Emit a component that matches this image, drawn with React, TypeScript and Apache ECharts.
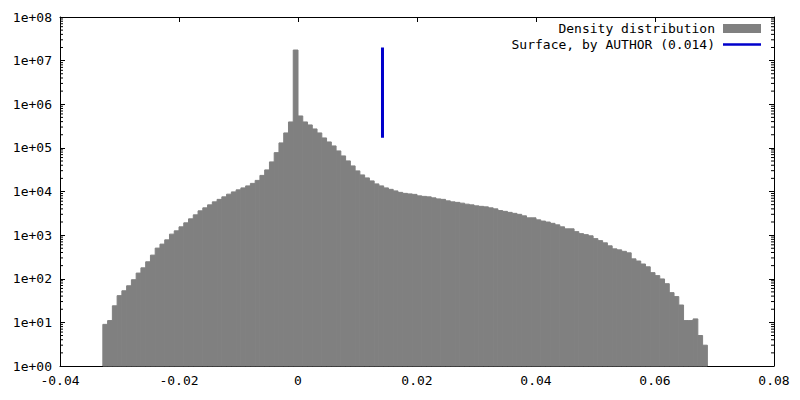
import React, { useEffect, useRef } from "react";
import * as echarts from "echarts";

// Histogram bins: left edge of first bin and bin width
const BIN_START = -0.0328;
const BIN_WIDTH = 0.0008;

// Counts per bin
const COUNTS = [
  9, 11, 24, 41, 53, 69, 95, 135, 178, 245,
  348, 504, 622, 780, 1054, 1254, 1549, 1911, 2360, 2915,
  3600, 4220, 4940, 5785, 6600, 7535, 8685, 9800, 10900, 12100,
  13450, 15350, 17980, 23400, 31270, 47700, 77800, 130000, 220000, 393000,
  17500000, 539000, 393000, 335600, 271700, 220000, 169000, 136800, 110800, 85200,
  65400, 50300, 38600, 29700, 24000, 20500, 17500, 14950, 13450, 12100,
  11200, 10330, 9550, 9060, 8820, 8590, 7940, 7730, 7535, 7145,
  6775, 6600, 6100, 5785, 5635, 5405, 5125, 4940, 4690, 4565,
  4445, 4220, 4000, 3655, 3505, 3325, 3155, 2995, 2765, 2490,
  2490, 2240, 2100, 1995, 1863, 1720, 1549, 1394, 1394, 1202,
  1082, 1026, 964, 831, 748, 666, 569, 485, 460, 425,
  393, 286, 255, 218, 188, 138, 118, 99, 77, 48,
  39, 25, 11, 11, 12, 5, 3,
];

// Vertical "surface" marker
const SURFACE_X = [0.0142, 0.0142];
const SURFACE_Y = [1.7e5, 2.0e7];

// Axes
const X_MIN = -0.04;
const X_MAX = 0.08;
const X_STEP = 0.02;
const Y_MIN = 1;
const Y_MAX = 1e8;
const MINOR_MULTS = [2, 3, 4, 5, 6, 7, 8, 9];
const DECADES = [0, 1, 2, 3, 4, 5, 6, 7];

const HIST_NAME = "Density distribution";
const SURFACE_NAME = "Surface, by AUTHOR (0.014)";

export default function App() {
  const ref = useRef<HTMLDivElement>(null);

  useEffect(() => {
    document.body.style.margin = "0";
    const chart = echarts.init(ref.current as HTMLDivElement, null, { renderer: "svg" });
    const FONT = "DejaVu Sans Mono";

    const histData = COUNTS.map((c, i) => [
      BIN_START + i * BIN_WIDTH,
      BIN_START + (i + 1) * BIN_WIDTH,
      c,
    ]);
    const minorData: number[][] = [];
    DECADES.forEach((e) => MINOR_MULTS.forEach((m) => minorData.push([X_MIN, m * Math.pow(10, e)])));

    const axisLabelStyle = { fontFamily: FONT, fontSize: 13, color: "#000" };

    const option: any = {
      animation: false,
      backgroundColor: "#fff",
      grid: { left: 60, right: 26, top: 17, bottom: 34, containLabel: false },
      legend: {
        orient: "vertical",
        right: 39,
        top: 22,
        padding: 0,
        align: "right",
        itemGap: 3,
        itemWidth: 38,
        itemHeight: 9,
        itemStyle: { borderWidth: 0 },
        textStyle: { fontFamily: FONT, fontSize: 13, color: "#000", padding: [0, 3, 0, 0] },
        data: [
          { name: HIST_NAME, icon: "rect" },
          {
            name: SURFACE_NAME,
            icon: "path://M0,0L38,0ZM0,9L38,9ZM0,3.2L38,3.2L38,5.8L0,5.8Z",
          },
        ],
      },
      xAxis: [
        {
          type: "value",
          min: X_MIN,
          max: X_MAX,
          interval: X_STEP,
          axisLine: { show: true, onZero: false, lineStyle: { color: "#000", width: 1 } },
          axisTick: { show: true, inside: true, length: 5, lineStyle: { color: "#000" } },
          axisLabel: {
            ...axisLabelStyle,
            margin: 8,
            formatter: (v: number) => String(parseFloat(v.toFixed(2))),
          },
          splitLine: { show: false },
        },
        {
          type: "value",
          position: "top",
          min: X_MIN,
          max: X_MAX,
          interval: X_STEP,
          axisLine: { show: true, onZero: false, lineStyle: { color: "#000", width: 1 } },
          axisTick: { show: true, inside: true, length: 5, lineStyle: { color: "#000" } },
          axisLabel: { show: false },
          splitLine: { show: false },
        },
      ],
      yAxis: [
        {
          type: "log",
          logBase: 10,
          min: Y_MIN,
          max: Y_MAX,
          interval: 1,
          axisLine: { show: true, onZero: false, lineStyle: { color: "#000", width: 1 } },
          axisTick: { show: true, inside: true, length: 5, lineStyle: { color: "#000" } },
          axisLabel: {
            ...axisLabelStyle,
            margin: 8,
            formatter: (v: number) => {
              const e = Math.round(Math.log10(v));
              return "1e+" + String(e).padStart(2, "0");
            },
          },
          splitLine: { show: false },
        },
        {
          type: "log",
          logBase: 10,
          position: "right",
          min: Y_MIN,
          max: Y_MAX,
          interval: 1,
          axisLine: { show: true, onZero: false, lineStyle: { color: "#000", width: 1 } },
          axisTick: { show: true, inside: true, length: 5, lineStyle: { color: "#000" } },
          axisLabel: { show: false },
          splitLine: { show: false },
        },
      ],
      series: [
        {
          type: "custom",
          name: HIST_NAME,
          xAxisIndex: 0,
          yAxisIndex: 0,
          itemStyle: { color: "#808080" },
          encode: { x: [0, 1], y: 2 },
          data: histData,
          renderItem: (params: any, api: any) => {
            const a = api.coord([api.value(0), api.value(2)]);
            const b = api.coord([api.value(1), Y_MIN]);
            return {
              type: "rect",
              shape: { x: a[0], y: a[1], width: b[0] - a[0], height: b[1] - a[1] },
              style: { fill: "#808080", stroke: "#808080", lineWidth: 1 },
            };
          },
        },
        {
          type: "line",
          name: SURFACE_NAME,
          xAxisIndex: 0,
          yAxisIndex: 0,
          symbol: "none",
          showSymbol: false,
          color: "#0000cc",
          itemStyle: { color: "#0000cc", borderWidth: 0 },
          lineStyle: { color: "#0000cc", width: 3 },
          data: SURFACE_X.map((x, i) => [x, SURFACE_Y[i]]),
        },
        {
          type: "custom",
          name: "minor ticks",
          silent: true,
          xAxisIndex: 0,
          yAxisIndex: 0,
          encode: { x: 0, y: 1 },
          data: minorData,
          renderItem: (params: any, api: any) => {
            const y = api.coord([X_MIN, api.value(1)])[1];
            const left = params.coordSys.x;
            const right = params.coordSys.x + params.coordSys.width;
            return {
              type: "group",
              children: [
                { type: "line", shape: { x1: left, y1: y, x2: left + 3, y2: y }, style: { stroke: "#000", lineWidth: 1 } },
                { type: "line", shape: { x1: right, y1: y, x2: right - 3, y2: y }, style: { stroke: "#000", lineWidth: 1 } },
              ],
            };
          },
        },
      ],
    };

    chart.setOption(option);
    return () => chart.dispose();
  }, []);

  return <div ref={ref} style={{ width: 800, height: 400 }} />;
}
